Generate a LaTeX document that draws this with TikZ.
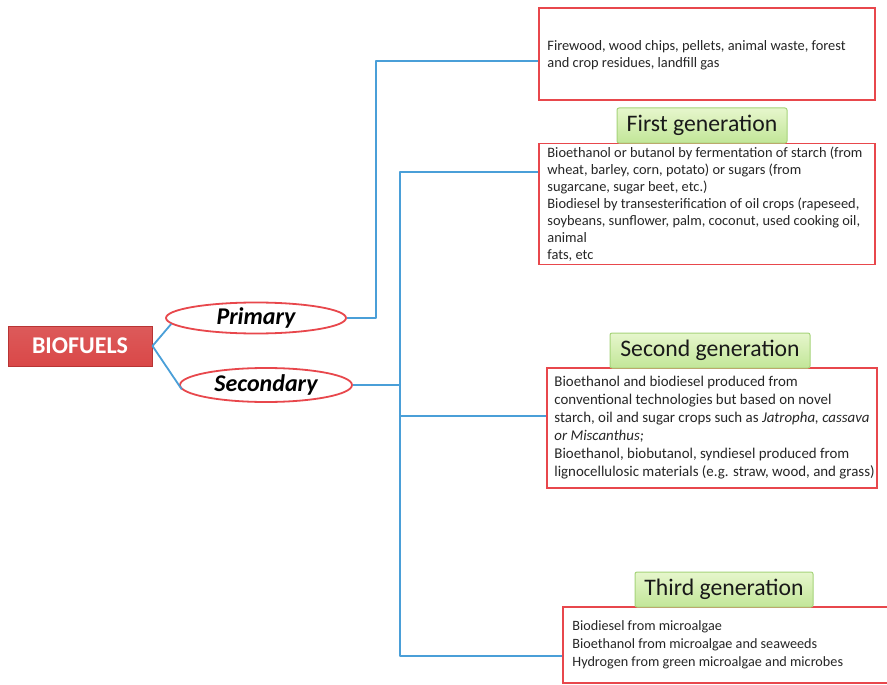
\documentclass[tikz,border=0pt]{standalone}
\usepackage{fontspec}
\setmainfont{Carlito}
\usetikzlibrary{shapes.geometric,calc}
\definecolor{boxred}{HTML}{E8474C}
\definecolor{biofill}{HTML}{D94848}
\definecolor{bioedge}{HTML}{B83434}
\definecolor{conblue}{HTML}{4A9FD8}
\definecolor{gtop}{HTML}{E6F6CC}
\definecolor{gbot}{HTML}{C2E698}
\definecolor{gedge}{HTML}{A6D47A}
\definecolor{txt}{HTML}{262626}
\tikzset{
  contentbox/.style={draw=boxred, line width=1.6pt, fill=white, rectangle, inner sep=0pt},
  bodytext/.style={inner sep=0pt, align=left, text=txt, anchor=west, font=\fontsize{14.4}{17}\selectfont},
  bodytextb/.style={bodytext, font=\fontsize{14.9}{18}\selectfont},
  bodytextc/.style={bodytext, font=\fontsize{14.2}{18}\selectfont},
  genlabel/.style={draw=gedge, line width=1pt, top color=gtop, bottom color=gbot, rounded corners=2pt, minimum height=35pt, inner sep=0pt, font=\fontsize{23.7}{25}\selectfont, text=black!90},
  branch/.style={ellipse, draw=boxred, line width=1.8pt, fill=white, inner sep=0pt, font=\fontsize{24}{26}\selectfont\bfseries\itshape},
  conn/.style={draw=conblue, line width=1.8pt, line join=round}
}
\begin{document}
\begin{tikzpicture}[x=1pt,y=-1pt]
\useasboundingbox[fill=white] (0,0) rectangle (887,685);

% root
\node[rectangle, draw=bioedge, line width=1pt, top color=biofill!90!white, bottom color=biofill, minimum width=144pt, minimum height=40pt, inner sep=0pt, text=white, font=\fontsize{24}{26}\selectfont\bfseries] (bio) at (80,346) {BIOFUELS};

% branches
\node[branch, minimum width=180pt, minimum height=31pt] (prim) at (256,318) {Primary};
\node[branch, minimum width=172pt, minimum height=34pt] (sec) at (266,385) {Secondary};

% content boxes
\node[contentbox, minimum width=336pt, minimum height=92pt] (box1) at (707,54) {};
\node[contentbox, minimum width=336pt, minimum height=121pt] (box2) at (707,204) {};
\node[contentbox, minimum width=330pt, minimum height=120pt] (box3) at (712,428) {};
\node[contentbox, minimum width=328pt, minimum height=76pt] (box4) at (727,645) {};

\node[bodytext] (t1) at ($(box1.west)+(9,1)$) {Firewood, wood chips, pellets, animal waste, forest\\and crop residues, landfill gas};
\node[bodytext] (t2) at ($(box2.west)+(9,0)$) {Bioethanol or butanol by fermentation of starch (from\\wheat, barley, corn, potato) or sugars (from\\sugarcane, sugar beet, etc.)\\Biodiesel by transesterification of oil crops (rapeseed,\\soybeans, sunflower, palm, coconut, used cooking oil,\\animal\\fats, etc};
\node[bodytextb] (t3) at ($(box3.west)+(8,0)$) {Bioethanol and biodiesel produced from\\conventional technologies but based on novel\\starch, oil and sugar crops such as \textit{Jatropha, cassava}\\\textit{or Miscanthus;}\\Bioethanol, biobutanol, syndiesel produced from\\lignocellulosic materials (e.g. straw, wood, and grass)};
\node[bodytextc] (t4) at ($(box4.west)+(10,0)$) {Biodiesel from microalgae\\Bioethanol from microalgae and seaweeds\\Hydrogen from green microalgae and microbes};

% generation labels
\node[genlabel, minimum width=170pt] (g1) at (702,125.5) {First generation};
\node[genlabel, minimum width=200pt] (g2) at (710,350.5) {Second generation};
\node[genlabel, minimum width=178pt] (g3) at (724,589.5) {Third generation};

% connectors
\coordinate (pv) at (376,61);
\coordinate (k1) at (400,172);
\coordinate (k2) at (400,416);
\coordinate (k3) at (400,656);

\draw[conn] (bio.east) -- (prim.184);
\draw[conn] (bio.east) -- (sec.183);
\draw[conn] (prim.east) -| (pv) -- (pv -| box1.west);
\draw[conn] (sec.east) -- (sec.east -| k1);
\draw[conn] (k1 -| box2.west) -- (k1) -- (k3) -- (k3 -| box4.west);
\draw[conn] (k2) -- (k2 -| box3.west);
\end{tikzpicture}
\end{document}
